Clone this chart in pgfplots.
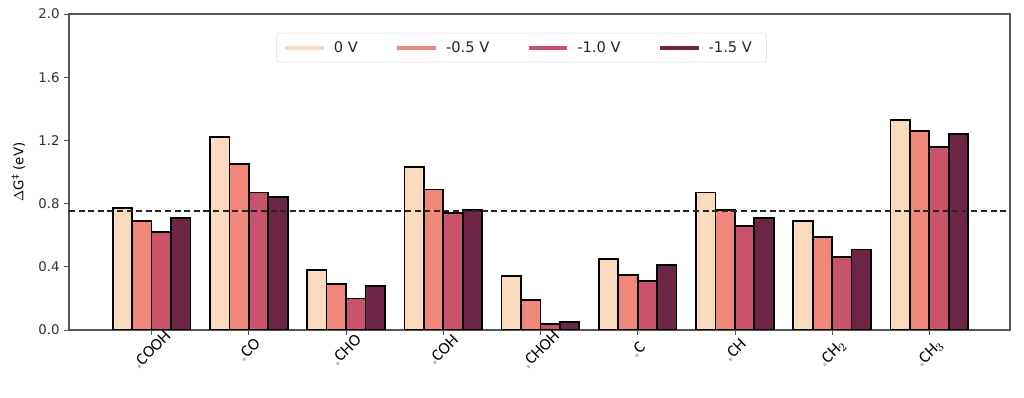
\documentclass[border=0pt]{standalone}
\usepackage{fontspec}
\setmainfont{DejaVu Sans}
\newfontfamily\carl{Carlito}
\usepackage{graphicx}
\usepackage{pgfplots}
\pgfplotsset{compat=1.18}
\definecolor{c0}{HTML}{F9DABD}
\definecolor{c1}{HTML}{EF877B}
\definecolor{c2}{HTML}{C9536A}
\definecolor{c3}{HTML}{6E2647}
\definecolor{spine}{HTML}{555555}
\newcommand\st{\raisebox{-0.15ex}{\textcolor{gray}{\scriptsize$\ast$}}}
\newcommand\labfont{\carl\fontsize{12.5}{14}\selectfont}
\newcommand\measure[2]{\setbox0=\hbox{\labfont\st #2}\dimen0=\dimexpr\wd0+\ht0+\dp0\relax \dimen0=0.35355\dimen0 \advance\dimen0 by 9pt \expandafter\xdef\csname lsh#1\endcsname{\the\dimen0}}
\newcommand\getlsh{\csname lsh\ticknum\endcsname}
\begin{document}
\begin{tikzpicture}
\measure{0}{COOH}\measure{1}{CO}\measure{2}{CHO}\measure{3}{COH}\measure{4}{CHOH}\measure{5}{C}\measure{6}{CH}\measure{7}{CH$_2$}\measure{8}{CH$_3$}
\begin{axis}[
  name=ax, at={(0,0)}, anchor=south west,
  scale only axis, width=705.75pt, height=237pt,
  xmin=-0.85, xmax=8.83, ymin=0, ymax=2.0,
  ytick={0,0.4,0.8,1.2,1.6,2.0},
  yticklabel style={/pgf/number format/fixed, /pgf/number format/fixed zerofill, /pgf/number format/precision=1, text=black!80},
  /pgf/number format/assume math mode=true,
  xtick={0,1,2,3,4,5,6,7,8},
  xticklabels={{\labfont\st COOH},{\labfont\st CO},{\labfont\st CHO},{\labfont\st COH},{\labfont\st CHOH},{\labfont\st C},{\labfont\st CH},{\labfont\st CH$_2$},{\labfont\st CH$_3$}},
  xticklabel style={inner sep=0pt, outer sep=0pt, yshift=-\getlsh, rotate=45, anchor=center},
  tick align=outside, tick pos=left,
  major tick length=3.5pt,
  tick style={spine, line width=0.6pt},
  axis line style={spine, line width=0.8pt},
  ylabel={$\Delta$G\textsuperscript{‡} (eV)},
  ylabel style={at={(rel axis cs:0,0.5)}, anchor=center, yshift=38pt},
  ybar, bar width=0.2,
  legend columns=4,
  legend style={at={(axis description cs:0.481,0.94)}, anchor=north, draw=black!15, rounded corners=2pt, font=\fontsize{11}{13}\selectfont, text=black!85, /tikz/every even column/.append style={column sep=22pt}, inner xsep=5pt, inner ysep=4pt, nodes={inner xsep=6pt}},
  legend image code/.code={\draw[#1] (0pt,0pt) -- (29pt,0pt);},
]
\addlegendimage{line width=3pt, c0}
\addlegendentry{0 V}
\addlegendimage{line width=3pt, c1}
\addlegendentry{-0.5 V}
\addlegendimage{line width=3pt, c2}
\addlegendentry{-1.0 V}
\addlegendimage{line width=3pt, c3}
\addlegendentry{-1.5 V}
\addplot[forget plot, fill=c0, draw=black, line width=1.3pt, bar shift=-0.3] coordinates {(0,0.77) (1,1.22) (2,0.38) (3,1.03) (4,0.34) (5,0.45) (6,0.87) (7,0.69) (8,1.33)};
\addplot[forget plot, fill=c1, draw=black, line width=1.3pt, bar shift=-0.1] coordinates {(0,0.69) (1,1.05) (2,0.29) (3,0.89) (4,0.19) (5,0.35) (6,0.76) (7,0.59) (8,1.26)};
\addplot[forget plot, fill=c2, draw=black, line width=1.3pt, bar shift=0.1] coordinates {(0,0.62) (1,0.87) (2,0.20) (3,0.74) (4,0.04) (5,0.31) (6,0.66) (7,0.46) (8,1.16)};
\addplot[forget plot, fill=c3, draw=black, line width=1.3pt, bar shift=0.3] coordinates {(0,0.71) (1,0.84) (2,0.28) (3,0.76) (4,0.05) (5,0.41) (6,0.71) (7,0.51) (8,1.24)};
\addplot[forget plot, sharp plot, black!85, line width=1.5pt, dash pattern=on 4.5pt off 2.7pt] coordinates {(-0.85,0.75) (8.83,0.75)};
\end{axis}
\pgfresetboundingbox
\path (-51.75pt,-51pt) rectangle (716.25pt,247.5pt);
\end{tikzpicture}
\end{document}
